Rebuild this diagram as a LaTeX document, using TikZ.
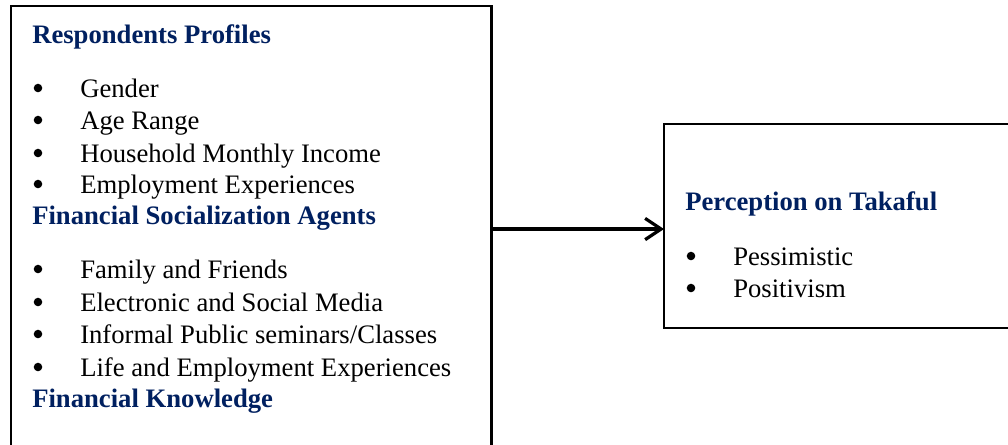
\documentclass[tikz,border=0pt]{standalone}
\usepackage{fontspec}
\setmainfont{Liberation Serif}
\usetikzlibrary{arrows.meta}
\definecolor{headblue}{RGB}{0,32,96}
\begin{document}
\begin{tikzpicture}[x=0.75pt,y=-0.75pt,
  box/.style={draw=black, line width=1.6pt, inner sep=0pt, outer sep=0pt},
  head/.style={anchor=base west, inner sep=0pt, font=\fontsize{20}{24}\selectfont\bfseries, text=headblue},
  item/.style={anchor=base west, inner sep=0pt, font=\fontsize{20}{24}\selectfont},
  dot/.style={circle, fill=black, inner sep=0pt, minimum size=6.4pt},
  link/.style={line width=2.4pt, -{Straight Barb[length=12pt,width=16pt]}}]
\clip (0,0) rectangle (1008,444);
\fill[white] (0,0) rectangle (1008,444);

% boxes
\node[box, minimum width=360.4pt, minimum height=334.5pt] (resp) at (251.25,229) {};
\node[box, minimum width=267pt, minimum height=153pt] (tak) at (842,226) {};

% left box: headings and bullet lists
\node[head] (h1) at (32,43) {Respondents Profiles};
\foreach \y/\t [count=\i] in {97/Gender, 129/Age Range, 162/Household Monthly Income, 193/Employment Experiences}{
  \node[dot] (da\i) at (38,\y-9) {};
  \node[item] (ia\i) at (80,\y) {\t};
}
\node[head] (h2) at (32,224) {Financial Socialization Agents};
\foreach \y/\t [count=\i] in {278/{Family and Friends}, 311/{Electronic and Social Media}, 343/{Informal Public seminars/Classes}, 376/{Life and Employment Experiences}}{
  \node[dot] (db\i) at (38,\y-9) {};
  \node[item] (ib\i) at (80,\y) {\t};
}
\node[head] (h3) at (32,407) {Financial Knowledge};

% right box
\node[head] (h4) at (685,210) {Perception on Takaful};
\node[dot] (dc1) at (691,256) {};
\node[item] (ic1) at (733,265) {Pessimistic};
\node[dot] (dc2) at (691,288) {};
\node[item] (ic2) at (733,297) {Positivism};

% connector
\draw[link] (resp.east) -- (resp.east -| tak.west);
\end{tikzpicture}
\end{document}
